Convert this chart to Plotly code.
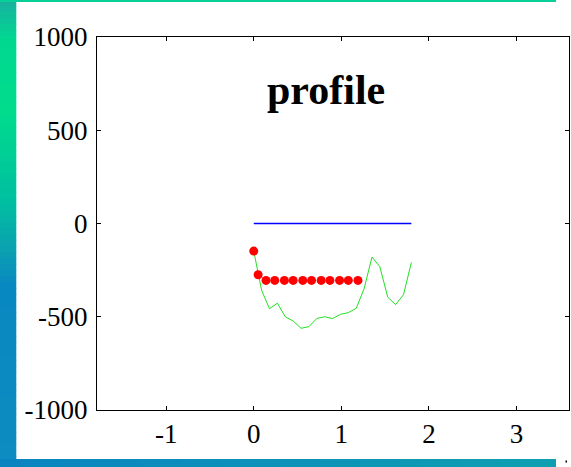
import plotly.graph_objects as go

# ---- data ----
blue_x = [0.0, 1.8]
blue_y = [0, 0]

green_x = [0.0, 0.09, 0.18, 0.27, 0.36, 0.45, 0.54, 0.63, 0.72, 0.81, 0.90,
           0.99, 1.08, 1.17, 1.26, 1.35, 1.44, 1.53, 1.62, 1.71, 1.80]
green_y = [-148, -359, -457, -427, -500, -523, -562, -553, -509, -500, -510,
           -487, -478, -455, -350, -180, -232, -395, -435, -382, -209]

red_x = [0.0, 0.05, 0.14, 0.24, 0.35, 0.45, 0.56, 0.66, 0.77, 0.87, 0.98, 1.08, 1.19]
red_y = [-148, -275, -305, -305, -305, -305, -305, -305, -305, -305, -305, -305, -305]

x_ticks = [-1, 0, 1, 2, 3]
y_ticks = [-1000, -500, 0, 500, 1000]
title_text = "profile"

# ---- layout geometry ----
W, H = 571, 467
L, R, T, B = 97, 2, 37, 57
PW, PH = W - L - R, H - T - B

def px(xp):
    return (xp - L) / PW

def py(yp):
    return (H - B - yp) / PH

def lerp(c1, c2, t):
    return tuple(int(round(a + (b - a) * t)) for a, b in zip(c1, c2))

def hexc(c):
    return "#%02x%02x%02x" % c

shapes = []
# left gradient strip
stops = [(0, (24, 176, 160)), (40, (0, 216, 144)), (110, (0, 220, 140)),
         (200, (0, 192, 160)), (250, (10, 160, 176)), (285, (8, 136, 192)),
         (467, (12, 140, 192))]
step = 6
for y0 in range(0, 467, step):
    ym = y0 + step / 2
    for i in range(len(stops) - 1):
        if stops[i][0] <= ym <= stops[i + 1][0]:
            t = (ym - stops[i][0]) / (stops[i + 1][0] - stops[i][0])
            col = lerp(stops[i][1], stops[i + 1][1], t)
            break
    shapes.append(dict(type="rect", xref="paper", yref="paper", layer="below",
                       x0=px(0), x1=px(16.3), y0=py(min(y0 + step + 0.5, 467)), y1=py(y0),
                       fillcolor=hexc(col), line=dict(width=0)))
# top strip
shapes.append(dict(type="rect", xref="paper", yref="paper", layer="below",
                   x0=px(0), x1=px(556), y0=py(2), y1=py(0),
                   fillcolor="#06cf98", line=dict(width=0)))
# bottom strip gradient
for i in range(0, 556, 20):
    t = i / 556
    col = lerp((10, 132, 192), (16, 160, 176), t)
    shapes.append(dict(type="rect", xref="paper", yref="paper", layer="below",
                       x0=px(i), x1=px(min(i + 20.5, 556)), y0=py(467), y1=py(459),
                       fillcolor=hexc(col), line=dict(width=0)))
# tiny mark
shapes.append(dict(type="rect", xref="paper", yref="paper",
                   x0=px(565.5), x1=px(567), y0=py(462.5), y1=py(460.5),
                   fillcolor="#000000", line=dict(width=0)))

fig = go.Figure()
fig.add_trace(go.Scatter(x=blue_x, y=blue_y, mode="lines",
                         line=dict(color="#0000ff", width=1.3), showlegend=False))
fig.add_trace(go.Scatter(x=green_x, y=green_y, mode="lines",
                         line=dict(color="#22e022", width=1), showlegend=False))
fig.add_trace(go.Scatter(x=red_x, y=red_y, mode="markers",
                         marker=dict(color="#ff0000", size=9, line=dict(width=0)),
                         showlegend=False))

fig.add_annotation(text="<b>" + title_text + "</b>", xref="paper", yref="paper",
                   x=px(326), y=py(90), xanchor="center", yanchor="middle",
                   showarrow=False,
                   font=dict(family="Liberation Serif", size=42, color="#000000"))

axis_common = dict(showgrid=False, zeroline=False, showline=True, linecolor="#000000",
                   linewidth=1, mirror="allticks", ticks="inside", ticklen=4,
                   tickcolor="#000000", tickwidth=1,
                   tickfont=dict(family="Liberation Serif", size=27, color="#000000"))

fig.update_xaxes(range=[-1.79, 3.6], tickmode="array", tickvals=x_ticks,
                 ticktext=[str(v) for v in x_ticks], **axis_common)
fig.update_yaxes(range=[-1000, 1000], tickmode="array", tickvals=y_ticks,
                 ticktext=[str(v) for v in y_ticks], ticklabelstandoff=3, **axis_common)

fig.update_layout(width=W, height=H, margin=dict(l=L, r=R, t=T, b=B, pad=0),
                  paper_bgcolor="#ffffff", plot_bgcolor="#ffffff",
                  shapes=shapes)

fig.write_html("out.html", config={"displayModeBar": False},
               post_script="document.body.style.margin='0px';document.body.style.overflow='hidden';")
